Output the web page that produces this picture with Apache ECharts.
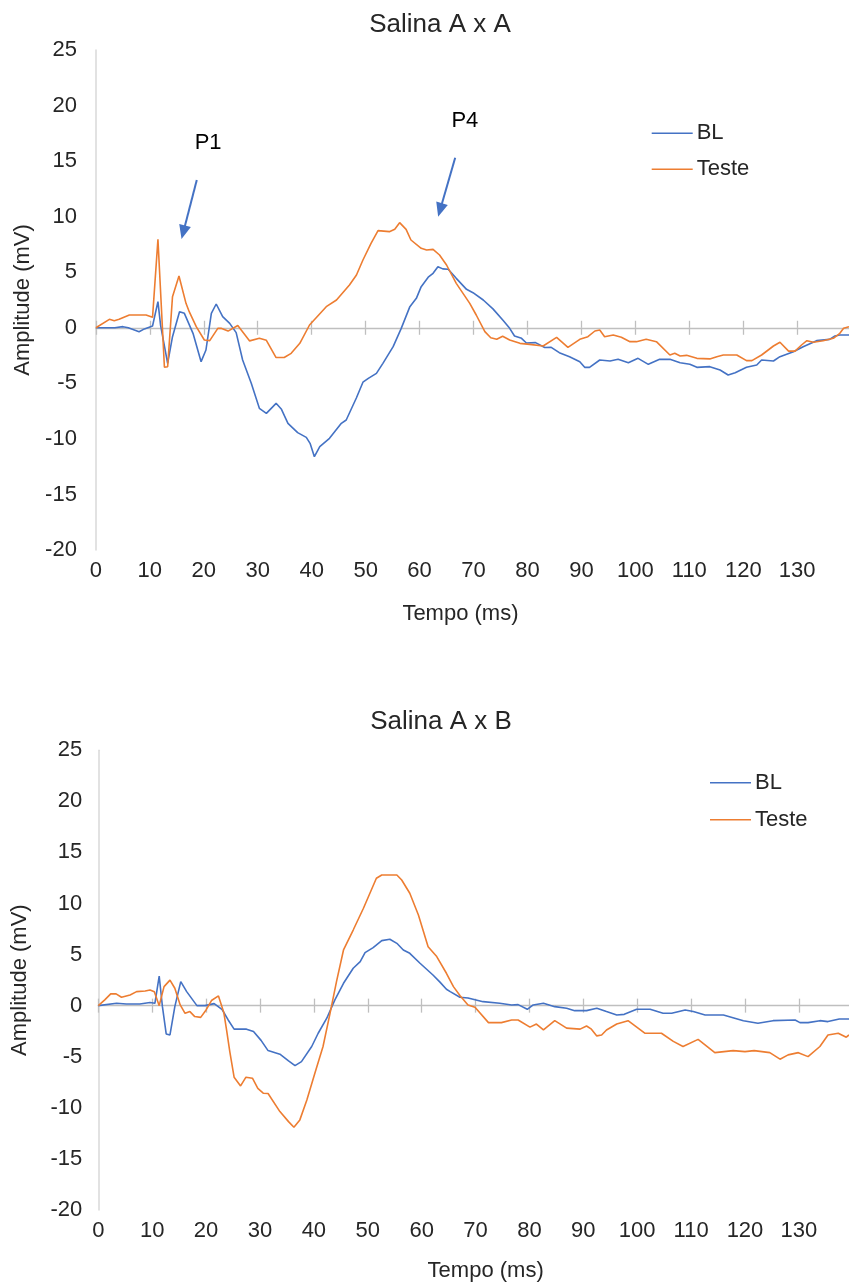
<!DOCTYPE html>
<html>
<head>
<meta charset="utf-8">
<script src="https://cdn.jsdelivr.net/npm/echarts@6/dist/echarts.min.js"></script>
<style>html,body{margin:0;padding:0;background:#fff}#c{width:849px;height:1283px}</style>
</head>
<body>
<div id="c"></div>
<script>
// ---- Data: Salina A x A ----
const aaBlT = [0,3.5,5,6,8,9,10.5,11.5,12,13.3,14.2,15.5,16.4,18,19.5,20.4,21.4,22.3,23.5,24.8,26,27.2,28.8,30.3,31.6,33.4,34.4,35.6,37.4,39,39.7,40.5,41.5,43.3,45.5,46.4,48.3,49.5,50.5,52,53.2,55.1,56.6,58.2,59.4,60.3,61.6,62.5,63.4,64.3,65.3,66.8,68.7,69.9,71.8,73.6,75.5,76.7,77.6,78.9,79.8,81.5,83.2,84.4,85.9,87.8,89.7,90.6,91.5,93.4,95.3,96.8,98.7,100.5,102.4,104.5,106.4,108.3,110.1,111.4,113.8,115.7,117.2,118.5,120.6,122.5,123.4,125.6,126.8,129.3,131.1,133.6,136,137,137.9,139.6];
const aaBlV = [0,0,0.1,0,-0.35,-0.1,0.16,2.35,0.2,-3.2,-0.8,1.45,1.3,-0.5,-3.05,-2.0,1.3,2.14,1.0,0.4,-0.44,-2.9,-5.0,-7.25,-7.7,-6.8,-7.34,-8.6,-9.44,-9.86,-10.4,-11.6,-10.7,-9.95,-8.6,-8.3,-6.3,-4.9,-4.55,-4.1,-3.2,-1.7,-0.05,1.9,2.65,3.7,4.55,4.9,5.5,5.3,5.27,4.45,3.46,3.16,2.5,1.7,0.65,-0.05,-0.74,-0.95,-1.37,-1.34,-1.78,-1.76,-2.24,-2.6,-3.05,-3.56,-3.56,-2.9,-2.99,-2.84,-3.14,-2.75,-3.29,-2.84,-2.84,-3.14,-3.29,-3.56,-3.5,-3.8,-4.25,-4.04,-3.56,-3.35,-2.9,-2.99,-2.6,-2.15,-1.7,-1.16,-1.04,-0.74,-0.65,-0.65];
const aaTeT = [0,2.5,3.4,4.3,6.2,9.3,10.5,11.5,12.7,13.3,14.2,15.4,16.7,17.3,18.6,20.1,21.1,22.6,23.2,24.5,26.3,28.5,30.3,31.6,33.4,34.9,36.2,37.8,39.6,42.7,44.6,47.0,48.3,49.5,51.0,52.3,54.4,55.4,56.3,57.5,58.4,60.3,61.3,62.5,63.7,65.0,66.8,69.3,70.5,72.1,73.2,74.3,75.4,76.7,78.6,80.4,82.9,85.4,87.5,89.7,91.2,92.5,93.4,94.3,95.9,97.4,99,100.2,102,103.9,106.4,107.3,108.3,109.5,111.4,113.8,115.1,116.3,118.8,120.6,121.6,123.4,125.6,126.8,128.4,129.6,130.8,131.8,133,134.8,136.7,137.9,138.6,139.6];
const aaTeV = [0,0.76,0.64,0.76,1.15,1.15,0.94,7.96,-3.56,-3.5,2.8,4.66,2.2,1.45,0.1,-1.1,-1.16,-0.05,-0.05,-0.3,0.2,-1.18,-0.95,-1.13,-2.68,-2.68,-2.3,-1.4,0.25,1.9,2.5,3.85,4.75,6.1,7.6,8.74,8.65,8.86,9.46,8.86,7.9,7.15,7.0,7.06,6.55,5.65,4.0,2.2,1.15,-0.35,-0.9,-1.04,-0.77,-1.1,-1.4,-1.49,-1.64,-0.86,-1.76,-1.04,-0.8,-0.29,-0.2,-0.8,-0.65,-0.86,-1.25,-1.25,-1.04,-1.25,-2.45,-2.3,-2.54,-2.48,-2.75,-2.8,-2.6,-2.45,-2.45,-2.96,-2.96,-2.45,-1.64,-1.3,-2.1,-2.1,-1.55,-1.16,-1.3,-1.16,-0.95,-0.5,-0.05,0.1];

// ---- Data: Salina A x B ----
const abBlT = [0,3.4,5.2,7.7,9.6,10.5,11.3,11.9,12.6,13.3,14.2,15.3,16.4,18.3,19.8,21.5,23.0,24.1,25.2,27.5,28.8,30.2,31.5,33.7,35.3,36.5,37.7,39.6,40.8,42.4,43.9,45.5,47.3,48.6,49.5,51.0,52.6,54.1,55.4,56.6,57.8,59.7,62.1,63.4,64.6,65.3,67.1,68.6,71.4,74.5,76.7,77.9,79.6,80.7,82.6,84.7,86.9,88.4,90.6,92.5,94.3,96.2,97.6,99.9,102.4,104.8,106.4,108.9,110.4,112.6,116.0,119.7,122.4,125.2,129.3,130.2,131.7,133.9,135.4,137.5,139.3];
const abBlV = [0,0.23,0.16,0.16,0.3,0.23,2.9,-0.1,-2.77,-2.87,-0.1,2.35,1.37,0,0,0.2,-0.4,-1.4,-2.3,-2.3,-2.54,-3.4,-4.4,-4.75,-5.4,-5.87,-5.48,-4.0,-2.7,-1.23,0.56,2.19,3.66,4.3,5.19,5.68,6.36,6.5,6.1,5.45,5.12,4.15,3.0,2.3,1.6,1.37,0.82,0.75,0.39,0.23,0.07,0.1,-0.36,0.07,0.23,-0.1,-0.26,-0.49,-0.49,-0.26,-0.58,-0.91,-0.85,-0.36,-0.36,-0.75,-0.75,-0.42,-0.58,-0.91,-0.91,-1.47,-1.73,-1.47,-1.4,-1.66,-1.66,-1.47,-1.56,-1.3,-1.3];
const abTeT = [0,1.2,2.3,3.3,4.3,5.9,7.1,8.7,9.6,10.4,11.3,12.2,13.3,14.2,15.2,16.1,17.0,17.9,19.0,20.0,21.0,22.3,23.3,23.8,24.4,25.2,26.4,27.4,28.6,29.6,30.6,31.5,33.7,35.3,36.3,37.4,38.7,40.2,41.7,43.0,44.2,45.5,47.3,49.2,50.4,51.6,52.6,55.4,56.3,57.8,59.4,61.2,62.8,64.6,65.9,67.1,68.6,69.9,72.4,74.8,76.7,77.9,80.1,81.3,82.6,84.7,86.9,89.4,90.6,91.5,92.5,93.4,94.3,96.2,98.3,101.4,104.5,106.7,108.5,111.3,114.4,117.8,120.0,121.7,124.6,126.5,128.0,129.9,131.7,133.9,135.4,137.3,138.8,139.3];
const abTeV = [0,0.56,1.15,1.15,0.82,1.05,1.37,1.44,1.54,1.37,0,1.86,2.5,1.7,0.07,-0.75,-0.58,-1.07,-1.15,-0.42,0.5,0.95,-0.7,-2.38,-4.5,-7.0,-7.86,-7.0,-7.1,-8.1,-8.57,-8.6,-10.37,-11.35,-11.9,-11.18,-9.23,-6.6,-4.0,-0.75,2.35,5.45,7.4,9.53,11.0,12.47,12.79,12.79,12.3,11.0,8.87,5.77,4.8,3.17,1.86,1.0,0.07,-0.16,-1.66,-1.66,-1.4,-1.4,-2.1,-1.8,-2.38,-1.47,-2.2,-2.3,-1.99,-2.3,-2.96,-2.87,-2.38,-1.8,-1.47,-2.7,-2.7,-3.5,-4.0,-3.3,-4.6,-4.4,-4.5,-4.4,-4.6,-5.24,-4.82,-4.6,-4.99,-4.0,-2.87,-2.7,-3.09,-2.87];

// ---- Axis ticks & texts ----
const xTickLabels = [0,10,20,30,40,50,60,70,80,90,100,110,120,130];
const yMin = -20, yMax = 25, yStep = 5;
const seriesNames = ['BL', 'Teste'];
const chartTitles = ['Salina A x A', 'Salina A x B'];
const xName = 'Tempo (ms)';
const yName = 'Amplitude (mV)';
// Annotations (data coordinates): arrows and labels
const arrowLabels = ['P1', 'P4'];
const arrowFrom = [[18.7, 13.3], [66.6, 15.3]];
const arrowTo = [[16.2, 8.6], [63.8, 10.6]];
const arrowLabelAt = [[20.8, 16.6], [68.4, 18.6]];

const pairs = (t, v) => t.map((x, i) => [x, v[i]]);
const FONT = "'Liberation Sans', Arial, sans-serif";
const TXT = '#262626';
const BLUE = '#4472C4', ORANGE = '#ED7D31';

const grids = [
  {left: 95.9, top: 50, width: 753.1, height: 500, xMax: 139.6, yNameGap: 62, xNameGap: 53, xNamePad: [0, 24, 0, 0], labelMargin: 19},
  {left: 98.3, top: 750.2, width: 750.7, height: 460, xMax: 139.3, yNameGap: 67, xNameGap: 50, xNamePad: [0, 0, 0, 24], labelMargin: 16}
];

const xAxes = [], yAxes = [];
grids.forEach((g, gi) => {
  const base = {gridIndex: gi, type: 'value', min: 0, max: g.xMax, position: 'bottom', splitLine: {show: false}};
  xAxes.push(Object.assign({}, base, {
    axisLine: {show: false, onZero: false},
    axisTick: {show: false},
    axisLabel: {show: true, customValues: xTickLabels, margin: 10, fontSize: 22, color: TXT, fontFamily: FONT},
    name: xName, nameLocation: 'middle', nameGap: g.xNameGap,
    nameTextStyle: {fontSize: 22, color: TXT, fontFamily: FONT, padding: g.xNamePad}
  }));
  xAxes.push(Object.assign({}, base, {
    axisLine: {show: true, onZero: true, onZeroAxisIndex: gi, lineStyle: {color: '#bfbfbf', width: 1.3}},
    axisTick: {show: true, customValues: xTickLabels, length: 7, lineStyle: {color: '#bfbfbf', width: 1.3}},
    axisLabel: {show: false}
  }));
  xAxes.push(Object.assign({}, base, {
    axisLine: {show: false, onZero: true, onZeroAxisIndex: gi},
    axisTick: {show: true, inside: true, customValues: xTickLabels, length: 7, lineStyle: {color: '#bfbfbf', width: 1.3}},
    axisLabel: {show: false}
  }));
  yAxes.push({
    gridIndex: gi, type: 'value', min: yMin, max: yMax, interval: yStep,
    axisLine: {show: true, lineStyle: {color: '#d9d9d9', width: 1.5}},
    axisTick: {show: false}, splitLine: {show: false},
    axisLabel: {margin: g.labelMargin, fontSize: 22, color: TXT, fontFamily: FONT},
    name: yName, nameLocation: 'middle', nameGap: g.yNameGap, nameRotate: 90,
    nameTextStyle: {fontSize: 22, color: TXT, fontFamily: FONT}
  });
});

const mkLine = (name, color, data, gi, extra) => Object.assign({
  name, type: 'line', xAxisIndex: gi * 3, yAxisIndex: gi, data,
  symbol: 'none', showSymbol: false, color, lineStyle: {color, width: 1.6}, z: 3
}, extra || {});

const annotations = {
  markLine: {
    silent: true, symbol: ['none', 'triangle'], symbolSize: [12, 14],
    lineStyle: {color: BLUE, width: 2, type: 'solid'}, label: {show: false},
    data: arrowFrom.map((f, i) => [{coord: f}, {coord: arrowTo[i]}])
  },
  markPoint: {
    silent: true, symbol: 'circle', symbolSize: 1, itemStyle: {color: 'rgba(0,0,0,0)'},
    label: {show: true, position: 'inside', formatter: p => p.name, fontSize: 22, color: '#000', fontFamily: FONT},
    data: arrowLabelAt.map((c, i) => ({name: arrowLabels[i], coord: c}))
  }
};

const series = [
  mkLine(seriesNames[0], BLUE, pairs(aaBlT, aaBlV), 0, annotations),
  mkLine(seriesNames[1], ORANGE, pairs(aaTeT, aaTeV), 0),
  mkLine(seriesNames[0], BLUE, pairs(abBlT, abBlV), 1),
  mkLine(seriesNames[1], ORANGE, pairs(abTeT, abTeV), 1)
];

const legendBase = {
  data: seriesNames, orient: 'vertical', padding: 0, itemWidth: 41, itemHeight: 22,
  icon: 'path://M0,0H41V1.6H0Z', symbolKeepAspect: true,
  textStyle: {fontSize: 22, color: TXT, fontFamily: FONT, padding: [0, 0, 0, -1]}, selectedMode: false
};

const option = {
  animation: false,
  backgroundColor: '#ffffff',
  grid: grids.map(g => ({left: g.left, top: g.top, width: g.width, height: g.height, containLabel: false})),
  xAxis: xAxes,
  yAxis: yAxes,
  legend: [
    Object.assign({}, legendBase, {left: 651.7, top: 122.3, itemGap: 14}),
    Object.assign({}, legendBase, {left: 710, top: 771.7, itemGap: 15})
  ],
  graphic: [
    {type: 'text', x: 440, y: 25, style: {text: chartTitles[0], fill: TXT, font: '26px ' + FONT, textAlign: 'center', textVerticalAlign: 'middle'}},
    {type: 'text', x: 441, y: 722, style: {text: chartTitles[1], fill: TXT, font: '26px ' + FONT, textAlign: 'center', textVerticalAlign: 'middle'}}
  ],
  series
};

const chart = echarts.init(document.getElementById('c'), null, {renderer: 'canvas'});
chart.setOption(option);
</script>
</body>
</html>
